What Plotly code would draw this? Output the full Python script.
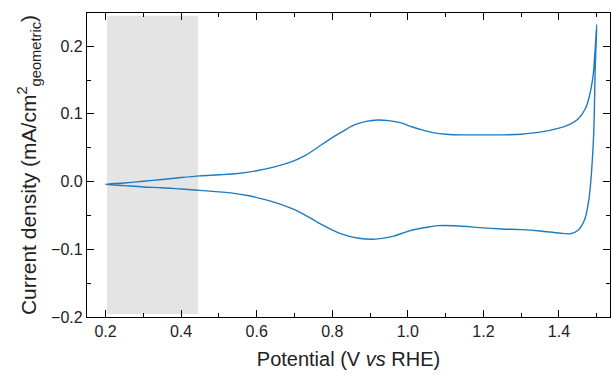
import plotly.graph_objects as go

# Anodic (forward) scan
v_fwd = [0.20, 0.25, 0.30, 0.35, 0.40, 0.45, 0.50, 0.55, 0.60, 0.65, 0.70, 0.73,
         0.76, 0.80, 0.83, 0.86, 0.89, 0.92, 0.95, 0.98, 1.01, 1.04, 1.07, 1.10,
         1.15, 1.20, 1.25, 1.30, 1.35, 1.40, 1.43, 1.45, 1.47, 1.48, 1.49, 1.50]
j_fwd = [-0.004, -0.002, 0.0005, 0.003, 0.006, 0.0085, 0.010, 0.012, 0.016, 0.022,
         0.031, 0.039, 0.050, 0.065, 0.075, 0.084, 0.089, 0.091, 0.090, 0.087,
         0.081, 0.076, 0.072, 0.070, 0.069, 0.069, 0.069, 0.070, 0.073, 0.079,
         0.085, 0.092, 0.108, 0.125, 0.155, 0.232]
# Cathodic (reverse) scan
v_rev = [1.496, 1.492, 1.486, 1.479, 1.468, 1.452, 1.43, 1.40, 1.35, 1.30, 1.25,
         1.19, 1.135, 1.08, 1.05, 1.00, 0.96, 0.915, 0.87, 0.82, 0.765, 0.75, 0.71,
         0.66, 0.625, 0.58, 0.536, 0.45, 0.40, 0.35, 0.30, 0.25, 0.20]
j_rev = [0.170, 0.072, 0.013, -0.027, -0.056, -0.071, -0.077, -0.076, -0.073,
         -0.071, -0.070, -0.068, -0.0655, -0.065, -0.0675, -0.0735, -0.081, -0.085,
         -0.0837, -0.0765, -0.0615, -0.0565, -0.0440, -0.033, -0.027, -0.021,
         -0.017, -0.013, -0.011, -0.009, -0.008, -0.006, -0.004]

shade_x = [0.204, 0.445]
shade_y = [-0.1955, 0.245]

x_ticks = [0.2, 0.4, 0.6, 0.8, 1.0, 1.2, 1.4]
y_ticks = [-0.2, -0.1, 0.0, 0.1, 0.2]

fig = go.Figure()
fig.add_shape(type="rect", x0=shade_x[0], x1=shade_x[1], y0=shade_y[0], y1=shade_y[1],
              fillcolor="#e4e4e4", line_width=0, layer="below")
fig.add_trace(go.Scatter(x=v_fwd + v_rev, y=j_fwd + j_rev, mode="lines",
                         line=dict(color="#1f7bbf", width=1.4, shape="spline", smoothing=0.9),
                         showlegend=False))

axis_common = dict(showline=True, linecolor="black", linewidth=1.3, mirror="allticks",
                   ticks="inside", ticklen=7, tickwidth=1.3, tickcolor="black",
                   showgrid=False, zeroline=False,
                   tickfont=dict(family="Liberation Sans, Arial", size=16, color="#222"))

fig.update_xaxes(range=[0.151, 1.535], tickvals=x_ticks, ticktext=[f"{t:.1f}" for t in x_ticks],
                 minor=dict(dtick=0.1, tick0=0.1, ticks="inside", ticklen=4, tickwidth=1.3, tickcolor="black"),
                 title=dict(text="Potential (V <i>vs</i> RHE)", standoff=12,
                            font=dict(family="Liberation Sans, Arial", size=20, color="#222")),
                 **axis_common)
fig.update_yaxes(range=[-0.2, 0.249], tickvals=y_ticks,
                 ticktext=[f"{t:.1f}".replace("-", "\u2212") for t in y_ticks],
                 minor=dict(dtick=0.05, tick0=0.05, ticks="inside", ticklen=4, tickwidth=1.3, tickcolor="black"),
                 title=dict(text="Current density (mA/cm<sup>2</sup><sub>geometric</sub>)", standoff=8,
                            font=dict(family="Liberation Sans, Arial", size=21, color="#222")),
                 **axis_common)

fig.update_layout(width=612, height=383, margin=dict(l=87, r=2, t=13, b=66),
                  plot_bgcolor="white", paper_bgcolor="white")
fig.write_html("out.html")
